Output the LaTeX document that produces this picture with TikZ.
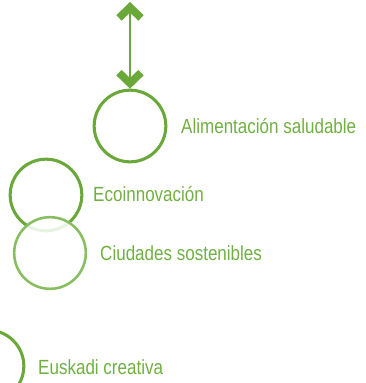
\documentclass[tikz,border=0pt]{standalone}
\usepackage{fontspec}
\setmainfont[FakeStretch=0.83]{Liberation Sans}
\usepackage{xcolor}
\usetikzlibrary{arrows.meta,positioning,calc}

\definecolor{leaf}{RGB}{106,168,58}
\definecolor{leaftext}{RGB}{112,176,66}
\definecolor{leaflight}{RGB}{136,190,96}

\tikzset{
    ring/.style={circle, draw=leaf, line width=2.6pt, minimum size=2.15cm, inner sep=0pt},
    ringlight/.style={ring, draw=leaflight, line width=2.2pt, fill=white, fill opacity=0.85},
    tag/.style={anchor=base west, text=leaftext, font=\fontsize{17.5}{20}\selectfont, inner sep=0pt},
    chev/.tip={Straight Barb[length=3.2mm, width=6.6mm, line width=6.5pt]}
}

\begin{document}
\begin{tikzpicture}[x=0.03cm, y=-0.03cm]
        % Frame (pixels of the reference)
        \useasboundingbox (0,0) rectangle (366,383);

        % Circles
        \node[ring] (alim) at (130,126) {};
        \node[ring] (eco) at (46,195) {};
        \node[ringlight] (ciud) at (50,253) {};
        \node[ring] (eusk) at (-12,366) {};

        % Labels
        \node[tag] (alimtxt) at (181,133) {Alimentación saludable};
        \node[tag] (ecotxt) at (93,201) {Ecoinnovación};
        \node[tag] (ciudtxt) at (100,260) {Ciudades sostenibles};
        \node[tag] (eusktxt) at (38,374) {Euskadi creativa};

        % Double arrow
        \coordinate (top) at (130,2);
        \draw[leaf, line width=2.2pt, chev-chev] (top) -- (alim.north);

\end{tikzpicture}
\end{document}
